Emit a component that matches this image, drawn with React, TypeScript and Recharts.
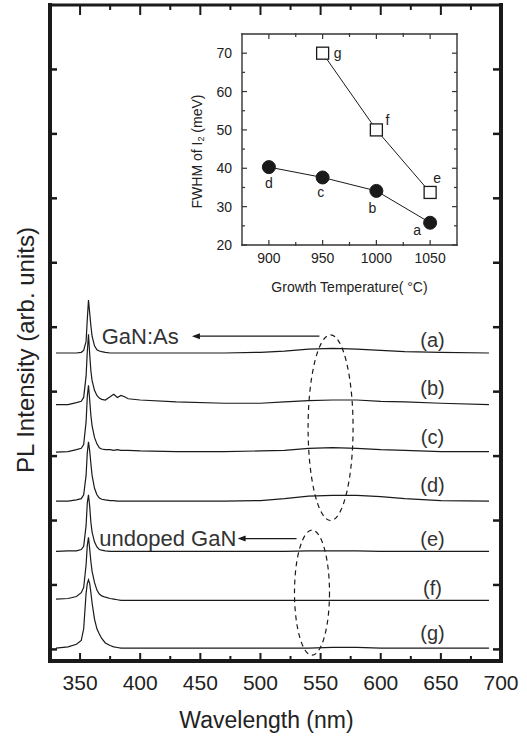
import React from 'react'
import {
  LineChart,
  Line,
  XAxis,
  YAxis,
  ReferenceArea,
  ReferenceLine,
  ReferenceDot,
} from 'recharts'

const FONT = '"Liberation Sans", Arial, Helvetica, sans-serif'
const INK = '#1a1a1a'
const TEXT = '#222'

// Main panel: PL spectra, stacked with an offset
const wavelength = [330, 340, 347, 351, 353, 355, 356, 357, 358, 359, 360, 362, 364, 366, 368, 371, 375, 378, 381, 384, 387, 390, 400, 430, 470, 500, 520, 540, 560, 580, 600, 620, 650, 690]

const specA = [0, 0, 0, 0.01, 0.04, 0.18, 0.52, 0.82, 0.62, 0.42, 0.26, 0.11, 0.05, 0.03, 0.02, 0.01, 0, 0, 0, 0, 0, 0, 0, 0, 0, 0.01, 0.03, 0.06, 0.07, 0.06, 0.04, 0.02, 0.01, 0]
const specB = [-0.02, -0.02, 0.01, 0.03, 0.09, 0.42, 0.8, 1.07, 0.76, 0.5, 0.35, 0.2, 0.12, 0.08, 0.06, 0.05, 0.1, 0.14, 0.09, 0.12, 0.1, 0.07, 0.05, 0.02, 0, 0, 0.02, 0.04, 0.05, 0.05, 0.03, 0.02, 0, -0.02]
const specC = [-0.01, 0, 0.03, 0.05, 0.11, 0.46, 0.85, 1.03, 0.8, 0.56, 0.4, 0.22, 0.12, 0.06, 0.04, 0.03, 0.03, 0.02, 0.03, 0.02, 0.02, 0.02, 0.01, 0, 0, 0.01, 0.02, 0.05, 0.06, 0.05, 0.03, 0.02, 0, 0]
const specD = [0, 0, 0.02, 0.04, 0.1, 0.4, 0.75, 0.92, 0.78, 0.58, 0.4, 0.2, 0.1, 0.05, 0.03, 0.02, 0.01, 0.01, 0, 0, 0, 0, 0, 0, 0, 0.01, 0.04, 0.08, 0.09, 0.09, 0.07, 0.04, 0.01, 0]
const specE = [0, 0.01, 0.01, 0.03, 0.08, 0.4, 0.75, 0.88, 0.7, 0.45, 0.3, 0.15, 0.07, 0.03, 0.02, 0.01, 0, 0, 0, 0, 0, 0, 0, 0, 0, 0, 0, 0.01, 0.01, 0.01, 0, 0, 0, 0]
const specF = [0.02, 0.03, 0.06, 0.12, 0.2, 0.55, 0.85, 0.98, 0.8, 0.6, 0.45, 0.28, 0.16, 0.1, 0.07, 0.05, 0.03, 0.02, 0.01, 0, 0, 0, 0, 0, 0, 0, 0, 0, 0, 0, 0, 0, 0, 0]
const specG = [0, 0.02, 0.06, 0.12, 0.3, 0.85, 1.0, 1.06, 1.0, 0.86, 0.7, 0.45, 0.3, 0.22, 0.15, 0.08, 0.04, 0.02, 0.01, 0, 0, 0, 0, 0, 0, 0, 0, 0, 0.01, 0.01, 0, 0, 0, 0]

const curveNames = ['a', 'b', 'c', 'd', 'e', 'f', 'g']
const curveOffsets = [4.6, 3.82, 3.07, 2.3, 1.52, 0.76, 0.02]
const curveLabelY = [4.8, 4.05, 3.29, 2.55, 1.72, 0.96, 0.26]
const curveLabelX = 643

const xDomain = [325, 700]
const yDomain = [-0.18, 10]
const xMajorTicks = [350, 400, 450, 500, 550, 600, 650, 700]
const xMinorTicks = [375, 425, 475, 525, 575, 625, 675]
const yTicks = [0, 1, 2, 3, 4, 5, 6, 7, 8, 9]

// dashed ellipses around the yellow band (data units)
const bandEllipses = [
  { x1: 539.6, x2: 577, y1: 2.0, y2: 4.88 },
  { x1: 528.3, x2: 557.4, y1: -0.09, y2: 1.85 },
]

// annotations: text start, arrow from tip (left) to tail (right)
const notes = [
  { text: 'GaN:As', x: 368, y: 4.86, tip: 443, tail: 549 },
  { text: 'undoped GaN', x: 366, y: 1.72, tip: 481, tail: 530 },
]

// Inset: FWHM vs growth temperature
const tempCircles = [900, 950, 1000, 1050]
const fwhmCircles = [40.3, 37.6, 34.1, 25.8]
const circleTags = ['d', 'c', 'b', 'a']
const tempSquares = [950, 1000, 1050]
const fwhmSquares = [70, 50, 33.7]
const squareTags = ['g', 'f', 'e']

const insetXDomain = [875, 1075]
const insetYDomain = [20, 75]
const insetXMajor = [900, 950, 1000, 1050]
const insetXMinor = [925, 975, 1025]
const insetYMajor = [20, 30, 40, 50, 60, 70]
const insetYMinor = [25, 35, 45, 55, 65]

const circleTagShift = [[0, 16], [-2, 15], [-4, 17], [-13, 7]]
const squareTagShift = [[15, 0], [11, -10], [7, -14]]

const spectra = [specA, specB, specC, specD, specE, specF, specG]
const rows = wavelength.map((w, i) => {
  const row: Record<string, number> = { w }
  curveNames.forEach((n, k) => {
    row[n] = spectra[k][i] + curveOffsets[k]
  })
  return row
})

const circlePts = tempCircles.map((t, i) => ({ t, v: fwhmCircles[i] }))
const squarePts = tempSquares.map((t, i) => ({ t, v: fwhmSquares[i] }))

const SquareDot = (props: any) => {
  const { cx, cy, index } = props
  if (cx == null || cy == null) return null
  return <rect key={`sq-${index}`} x={cx - 6} y={cy - 6} width={12} height={12} fill="#fff" stroke={INK} strokeWidth={1.3} />
}

const ellipseShape = (p: any) => (
  <ellipse
    cx={p.x + p.width / 2}
    cy={p.y + p.height / 2}
    rx={Math.abs(p.width) / 2}
    ry={Math.abs(p.height) / 2}
    fill="none"
    stroke={INK}
    strokeWidth={1.2}
    strokeDasharray="5 4"
  />
)

const arrowShape = (p: any) => {
  const { x1, y1, x2, y2 } = p
  const left = Math.min(x1, x2)
  const right = Math.max(x1, x2)
  return (
    <g>
      <line x1={left + 6} y1={y1} x2={right} y2={y2} stroke={INK} strokeWidth={1.3} />
      <polygon points={`${left},${y1} ${left + 8},${y1 - 3} ${left + 8},${y1 + 3}`} fill={INK} />
    </g>
  )
}

// x-axis tick renderer: inward mark as a thin filled rect (dir -1 up from bottom frame, +1 down from top frame)
const xTick = (len: number, dir: number, w: number, color: string, label?: { size: number; dy: number }) => (p: any) => (
  <g>
    <rect x={p.x - w / 2} y={dir < 0 ? p.y - len : p.y} width={w} height={len} fill={color} stroke="none" />
    {label ? (
      <text x={p.x} y={p.y + label.dy} textAnchor="middle" fill={TEXT} fontSize={label.size} fontFamily={FONT}>
        {p.payload?.value}
      </text>
    ) : null}
  </g>
)

// inward ticks at both ends of a horizontal reference line
const yTickShape = (leftLen: number, rightLen: number, w: number, color: string) => (p: any) => {
  const y = p.y1
  const left = Math.min(p.x1, p.x2)
  const right = Math.max(p.x1, p.x2)
  return (
    <g>
      <line x1={left} x2={left + leftLen} y1={y} y2={y} stroke={color} strokeWidth={w} />
      <line x1={right} x2={right - rightLen} y1={y} y2={y} stroke={color} strokeWidth={w} />
    </g>
  )
}

const mainFrame = { stroke: INK, strokeWidth: 4, strokeLinecap: 'square' as const }
const insetFrame = { stroke: '#333', strokeWidth: 1.4, strokeLinecap: 'square' as const }

export default function App() {
  return (
    <div style={{ position: 'absolute', left: 0, top: 0, width: 527, height: 736, background: '#fff' }}>
      {/* axes take 1px each, margins compensate so the plot box is x 50-501, y 5-661 */}
      <LineChart width={527} height={736} data={rows} margin={{ top: 3, right: 25, bottom: 73, left: 49 }}>
        <XAxis
          xAxisId="b"
          type="number"
          dataKey="w"
          domain={xDomain}
          ticks={xMajorTicks}
          interval={0}
          allowDataOverflow
          height={1}
          tickSize={0}
          tickMargin={0}
          axisLine={mainFrame}
          tickLine={false}
          tick={xTick(8, -1, 2, INK, { size: 21, dy: 29 })}
          label={(p: any) => {
            const vb = p.viewBox || { x: 50, y: 661, width: 451 }
            return (
              <text x={vb.x + vb.width / 2 - 9} y={vb.y + 59} textAnchor="middle" dominantBaseline="central" fill={TEXT} fontSize={23} fontFamily={FONT}>
                Wavelength (nm)
              </text>
            )
          }}
        />
        <XAxis xAxisId="bm" type="number" dataKey="w" domain={xDomain} ticks={xMinorTicks} interval={0} allowDataOverflow height={1} tickSize={0} tickMargin={0} axisLine={false} tickLine={false} tick={xTick(6, -1, 2, INK)} />
        <XAxis xAxisId="t" orientation="top" type="number" dataKey="w" domain={xDomain} ticks={xMajorTicks} interval={0} allowDataOverflow height={1} tickSize={0} tickMargin={0} axisLine={{ ...mainFrame, strokeWidth: 3 }} tickLine={false} tick={xTick(10, 1, 2, INK)} />
        <XAxis xAxisId="tm" orientation="top" type="number" dataKey="w" domain={xDomain} ticks={xMinorTicks} interval={0} allowDataOverflow height={1} tickSize={0} tickMargin={0} axisLine={false} tickLine={false} tick={xTick(6, 1, 2, INK)} />
        <YAxis
          yAxisId="l"
          type="number"
          domain={yDomain}
          ticks={yTicks}
          interval={0}
          allowDataOverflow
          width={1}
          axisLine={mainFrame}
          tickLine={false}
          tick={false}
          label={(p: any) => {
            const vb = p.viewBox || { x: 49, y: 5, height: 656 }
            const cx = 25
            const cy = vb.y + vb.height / 2 + 17
            return (
              <text x={cx} y={cy} transform={`rotate(-90 ${cx} ${cy})`} textAnchor="middle" dominantBaseline="central" fill={TEXT} fontSize={24} fontFamily={FONT}>
                PL Intensity (arb. units)
              </text>
            )
          }}
        />
        <YAxis yAxisId="r" orientation="right" type="number" domain={yDomain} ticks={yTicks} interval={0} allowDataOverflow width={1} axisLine={mainFrame} tickLine={false} tick={false} />

        {yTicks.map((t) => (
          <ReferenceLine key={`y-${t}`} xAxisId="b" yAxisId="l" y={t} shape={yTickShape(7, 8, 2.5, INK)} />
        ))}

        {curveNames.map((n) => (
          <Line
            key={n}
            xAxisId="b"
            yAxisId="l"
            type="linear"
            dataKey={n}
            stroke={INK}
            strokeWidth={1.2}
            dot={false}
            isAnimationActive={false}
          />
        ))}

        {bandEllipses.map((e, i) => (
          <ReferenceArea key={`el-${i}`} xAxisId="b" yAxisId="l" x1={e.x1} x2={e.x2} y1={e.y1} y2={e.y2} shape={ellipseShape} />
        ))}

        {notes.map((n, i) => (
          <ReferenceLine
            key={`ar-${i}`}
            xAxisId="b"
            yAxisId="l"
            segment={[{ x: n.tip, y: n.y }, { x: n.tail, y: n.y }]}
            shape={arrowShape}
          />
        ))}
        {notes.map((n, i) => (
          <ReferenceDot
            key={`nt-${i}`}
            xAxisId="b"
            yAxisId="l"
            x={n.x}
            y={n.y}
            r={0}
            shape={(p: any) => (
              <text x={p.cx} y={p.cy} textAnchor="start" dominantBaseline="central" fill="#333" fontSize={22} fontFamily={FONT}>
                {n.text}
              </text>
            )}
          />
        ))}
        {curveNames.map((n, i) => (
          <ReferenceDot
            key={`lb-${n}`}
            xAxisId="b"
            yAxisId="l"
            x={curveLabelX}
            y={curveLabelY[i]}
            r={0}
            shape={(p: any) => (
              <text x={p.cx} y={p.cy} textAnchor="middle" dominantBaseline="central" fill="#333" fontSize={20} fontFamily={FONT}>
                ({n})
              </text>
            )}
          />
        ))}
      </LineChart>

      {/* Inset */}
      <div style={{ position: 'absolute', left: 180, top: 20 }}>
        <LineChart width={300} height={290} margin={{ top: 12, right: 22, bottom: 63, left: 61 }}>
          <XAxis
            xAxisId="b"
            type="number"
            dataKey="t"
            domain={insetXDomain}
            ticks={insetXMajor}
            interval={0}
            allowDataOverflow
            height={1}
            tickSize={0}
            tickMargin={0}
            axisLine={insetFrame}
            tickLine={false}
            tick={xTick(5, -1, 1.2, '#333', { size: 14, dy: 17.5 })}
            label={(p: any) => {
              const vb = p.viewBox || { x: 62, y: 225, width: 215 }
              return (
                <text x={vb.x + vb.width / 2} y={vb.y + 42} textAnchor="middle" dominantBaseline="central" fill={TEXT} fontSize={14} fontFamily={FONT}>
                  Growth Temperature( °C)
                </text>
              )
            }}
          />
          <XAxis xAxisId="bm" type="number" dataKey="t" domain={insetXDomain} ticks={insetXMinor} interval={0} allowDataOverflow height={1} tickSize={0} tickMargin={0} axisLine={false} tickLine={false} tick={xTick(4, -1, 1.2, '#333')} />
          <XAxis xAxisId="t" orientation="top" type="number" dataKey="t" domain={insetXDomain} ticks={insetXMajor} interval={0} allowDataOverflow height={1} tickSize={0} tickMargin={0} axisLine={insetFrame} tickLine={false} tick={xTick(5, 1, 1.2, '#333')} />
          <XAxis xAxisId="tm" orientation="top" type="number" dataKey="t" domain={insetXDomain} ticks={insetXMinor} interval={0} allowDataOverflow height={1} tickSize={0} tickMargin={0} axisLine={false} tickLine={false} tick={xTick(4, 1, 1.2, '#333')} />
          <YAxis
            yAxisId="l"
            type="number"
            domain={insetYDomain}
            ticks={insetYMajor}
            interval={0}
            allowDataOverflow
            width={1}
            tickSize={-5}
            tickMargin={15}
            axisLine={insetFrame}
            tickLine={false}
            tick={{ fill: TEXT, fontSize: 14, fontFamily: FONT }}
            label={(p: any) => {
              const vb = p.viewBox || { x: 61, y: 14, height: 211 }
              const cx = 17
              const cy = vb.y + vb.height / 2 + 12
              return (
                <text x={cx} y={cy} transform={`rotate(-90 ${cx} ${cy})`} textAnchor="middle" dominantBaseline="central" fill={TEXT} fontSize={14} fontFamily={FONT}>
                  FWHM of I<tspan fontSize={9} dy={4}>2</tspan>
                  <tspan dy={-4}> (meV)</tspan>
                </text>
              )
            }}
          />
          <YAxis yAxisId="r" orientation="right" type="number" domain={insetYDomain} ticks={insetYMajor} interval={0} allowDataOverflow width={1} axisLine={insetFrame} tickLine={false} tick={false} />

          {insetYMajor.map((t) => (
            <ReferenceLine key={`iyM-${t}`} xAxisId="b" yAxisId="l" y={t} shape={yTickShape(5, 5, 1.2, '#333')} />
          ))}
          {insetYMinor.map((t) => (
            <ReferenceLine key={`iym-${t}`} xAxisId="b" yAxisId="l" y={t} shape={yTickShape(3, 3, 1.2, '#333')} />
          ))}

          <Line
            xAxisId="b"
            yAxisId="l"
            data={squarePts}
            dataKey="v"
            type="linear"
            stroke={INK}
            strokeWidth={1}
            dot={<SquareDot />}
            isAnimationActive={false}
          />
          <Line
            xAxisId="b"
            yAxisId="l"
            data={circlePts}
            dataKey="v"
            type="linear"
            stroke={INK}
            strokeWidth={1}
            dot={{ r: 6.5, fill: INK, stroke: INK, strokeWidth: 1 }}
            isAnimationActive={false}
          />

          {circlePts.map((pt, i) => (
            <ReferenceDot
              key={`ct-${i}`}
              xAxisId="b"
              yAxisId="l"
              x={pt.t}
              y={pt.v}
              r={0}
              shape={(p: any) => (
                <text x={p.cx + circleTagShift[i][0]} y={p.cy + circleTagShift[i][1]} textAnchor="middle" dominantBaseline="central" fill={TEXT} fontSize={14} fontFamily={FONT}>
                  {circleTags[i]}
                </text>
              )}
            />
          ))}
          {squarePts.map((pt, i) => (
            <ReferenceDot
              key={`st-${i}`}
              xAxisId="b"
              yAxisId="l"
              x={pt.t}
              y={pt.v}
              r={0}
              shape={(p: any) => (
                <text x={p.cx + squareTagShift[i][0]} y={p.cy + squareTagShift[i][1]} textAnchor="middle" dominantBaseline="central" fill={TEXT} fontSize={14} fontFamily={FONT}>
                  {squareTags[i]}
                </text>
              )}
            />
          ))}
        </LineChart>
      </div>
    </div>
  )
}
